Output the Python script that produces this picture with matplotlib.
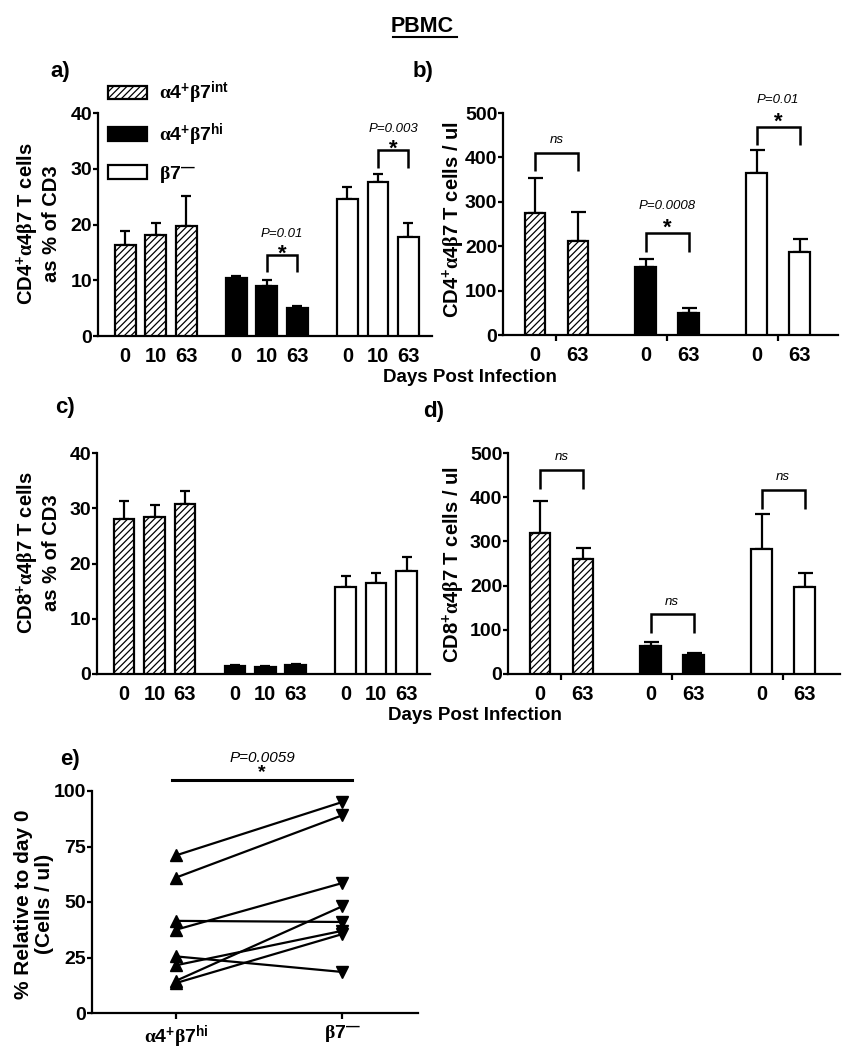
import numpy as np
import matplotlib
matplotlib.use('Agg')
import matplotlib.pyplot as plt
from matplotlib.patches import Patch
from matplotlib.lines import Line2D

# ---------------- data ----------------
days_3 = ['0', '10', '63']
days_2 = ['0', '63']

a_int = [16.4, 18.1, 19.8]; a_int_err = [2.4, 2.1, 5.4]
a_hi = [10.4, 9.0, 5.0];    a_hi_err = [0.4, 1.1, 0.4]
a_neg = [24.6, 27.7, 17.7]; a_neg_err = [2.2, 1.3, 2.5]

b_int = [274, 211]; b_int_err = [80, 65]
b_hi = [154, 50];   b_hi_err = [18, 10]
b_neg = [364, 187]; b_neg_err = [52, 30]

c_int = [28.1, 28.4, 30.8]; c_int_err = [3.2, 2.1, 2.4]
c_hi = [1.5, 1.3, 1.6];     c_hi_err = [0.2, 0.2, 0.2]
c_neg = [15.7, 16.5, 18.6]; c_neg_err = [2.0, 1.8, 2.5]

d_int = [320, 260]; d_int_err = [72, 24]
d_hi = [63, 42];    d_hi_err = [9, 6]
d_neg = [282, 197]; d_neg_err = [79, 32]

e_hi = [71, 61, 37.5, 41.5, 25.5, 21.5, 14.5, 13.5]
e_neg = [95, 89, 58.5, 41, 18.5, 37, 48, 35.5]

# significance annotations: (group, label, bracket top, leg bottom)
a_sig = [(1, 'P=0.01', 14.5, 11.4), (2, 'P=0.003', 33.4, 30.1)]
b_sig = [(0, 'ns', 410, 370), (1, 'P=0.0008', 229, 187), (2, 'P=0.01', 468, 427)]
d_sig = [(0, 'ns', 461, 418), (1, 'ns', 135, 92), (2, 'ns', 417, 374)]

lab_int = r'$\alpha$4$^{\mathbf{+}}$$\beta$7$^{\mathbf{int}}$'
lab_hi = r'$\alpha$4$^{\mathbf{+}}$$\beta$7$^{\mathbf{hi}}$'
lab_neg = r'$\beta$7$^{\mathbf{—}}$'

# ---------------- style ----------------
plt.rcParams['font.family'] = ['Liberation Sans', 'DejaVu Sans']
plt.rcParams['font.weight'] = 'bold'
plt.rcParams['mathtext.fontset'] = 'custom'
plt.rcParams['mathtext.rm'] = 'Liberation Serif'
plt.rcParams['mathtext.it'] = 'Liberation Serif'
plt.rcParams['mathtext.bf'] = 'Liberation Sans:bold'
plt.rcParams['hatch.color'] = 'black'
plt.rcParams['hatch.linewidth'] = 0.9

LW = 1.6
W, H = 844, 1050
fig = plt.figure(figsize=(W / 100, H / 100), dpi=100)


def fx(px):
    return px / W


def fy(py):
    return 1 - py / H


def make_ax(l, t, r, b):
    return fig.add_axes([fx(l), fy(b), fx(r) - fx(l), fy(t) - fy(b)])


styles = [dict(facecolor='white', hatch='/////'),
          dict(facecolor='black'),
          dict(facecolor='white')]


def style_axes(ax):
    for s in ['top', 'right']:
        ax.spines[s].set_visible(False)
    for s in ['left', 'bottom']:
        ax.spines[s].set_linewidth(LW)
    ax.tick_params(axis='y', length=3.6, width=LW, pad=0.5, labelsize=14)


def bar_panel(ax, vals, errs, base, width, daylabels, ylim, yticks, capsize, tick_off):
    xs_all, labs = [], []
    for g, (v, e) in enumerate(zip(vals, errs)):
        x = base[g] + np.arange(len(v))
        ax.bar(x, v, width, edgecolor='black', linewidth=LW, zorder=3, **styles[g])
        ax.errorbar(x, v, yerr=[np.zeros(len(v)), e], fmt='none', ecolor='black',
                    elinewidth=LW, capsize=capsize, capthick=LW, zorder=2)
        xs_all += list(x)
        labs += daylabels
    ax.set_ylim(*ylim)
    ax.set_yticks(yticks)
    ax.set_xticks(xs_all)
    ax.set_xticklabels(labs, fontsize=14.5)
    ax.tick_params(axis='x', which='major', length=0, pad=8)
    ax.set_xticks([b + tick_off for b in base], minor=True)
    ax.tick_params(axis='x', which='minor', length=4.5, width=LW, direction='out')
    style_axes(ax)


def brackets(ax, sig, base, i0, i1, star_off, p_off, ns_off, psize=9.5):
    for g, lab, top, leg in sig:
        x0, x1 = base[g] + i0, base[g] + i1
        ax.plot([x0, x0, x1, x1], [leg, top, top, leg], color='black', lw=1.8,
                clip_on=False, solid_joinstyle='miter', solid_capstyle='butt', zorder=4)
        xm = (x0 + x1) / 2
        if lab == 'ns':
            ax.annotate('ns', (xm, top), xytext=(0, ns_off), textcoords='offset points',
                        ha='center', va='center', fontsize=psize, style='italic',
                        fontweight='normal', annotation_clip=False)
        else:
            ax.annotate('*', (xm, top), xytext=(0, star_off), textcoords='offset points',
                        ha='center', va='center', fontsize=16, fontweight='bold',
                        annotation_clip=False)
            ax.annotate(lab, (xm, top), xytext=(0, p_off), textcoords='offset points',
                        ha='center', va='center', fontsize=psize, style='italic',
                        fontweight='normal', annotation_clip=False)


base3 = [0, 3.64, 7.28]
base2 = [0, 2.58, 5.16]

# ---- panel a ----
axa = make_ax(98, 113, 432, 336)
bar_panel(axa, [a_int, a_hi, a_neg], [a_int_err, a_hi_err, a_neg_err], base3, 0.68,
          days_3, (0, 40), [0, 10, 20, 30, 40], 3.6, 1)
axa.set_xlim(-0.89, 10.05)
brackets(axa, a_sig, base3, 1, 2, 0.5, 15.0, 0)

# ---- panel b ----
axb = make_ax(503, 113, 838, 335)
bar_panel(axb, [b_int, b_hi, b_neg], [b_int_err, b_hi_err, b_neg_err], base2, 0.48,
          days_2, (0, 500), [0, 100, 200, 300, 400, 500], 5.4, 0.5)
axb.set_xlim(-0.74, 7.05)
brackets(axb, b_sig, base2, 0, 1, 3.5, 19.5, 9.6)

# ---- panel c ----
axc = make_ax(97, 453, 430, 674)
bar_panel(axc, [c_int, c_hi, c_neg], [c_int_err, c_hi_err, c_neg_err], base3, 0.68,
          days_3, (0, 40), [0, 10, 20, 30, 40], 3.6, 1)
axc.set_xlim(-0.89, 10.05)

# ---- panel d ----
axd = make_ax(508, 453, 840, 674)
bar_panel(axd, [d_int, d_hi, d_neg], [d_int_err, d_hi_err, d_neg_err], base2, 0.48,
          days_2, (0, 500), [0, 100, 200, 300, 400, 500], 5.4, 0.5)
axd.set_xlim(-0.74, 6.98)
brackets(axd, d_sig, base2, 0, 1, 3.5, 19.5, 9.2)

# ---- panel e ----
axe = make_ax(92, 791, 418, 1013)
for l, r in zip(e_hi, e_neg):
    axe.plot([0, 1], [l, r], color='black', lw=1.6, zorder=2)
axe.plot(np.zeros(len(e_hi)), e_hi, linestyle='none', marker='^', color='black',
         markersize=8, zorder=3, clip_on=False)
axe.plot(np.ones(len(e_neg)), e_neg, linestyle='none', marker='v', color='black',
         markersize=8, zorder=3, clip_on=False)
axe.set_xlim(-0.506, 1.458)
axe.set_ylim(0, 100)
axe.set_yticks([0, 25, 50, 75, 100])
axe.set_xticks([0, 1])
axe.set_xticklabels([lab_hi, lab_neg], fontsize=14)
axe.tick_params(axis='x', length=4.5, width=LW, pad=3)
style_axes(axe)
axe.plot([-0.024, 1.06], [105, 105], color='black', lw=2.2, clip_on=False)
axe.text(0.518, 108.3, '*', ha='center', va='center', fontsize=14, fontweight='bold')
axe.text(0.518, 114.7, 'P=0.0059', ha='center', va='center', fontsize=11,
         style='italic', fontweight='normal')

# ---------------- text ----------------
fig.text(0.5, fy(26), 'PBMC', ha='center', va='center', fontsize=15.5, fontweight='bold')
fig.add_artist(Line2D([fx(393), fx(457)], [fy(37), fy(37)], color='black', lw=1.5))

for lab, x, y in [('a)', 50, 71), ('b)', 413, 71), ('c)', 55, 407), ('d)', 423, 412),
                  ('e)', 60, 760)]:
    fig.text(fx(x), fy(y), lab, ha='left', va='center', fontsize=16, fontweight='bold')

fig.text(fx(470), fy(378), 'Days Post Infection', ha='center', va='center',
         fontsize=13.5, fontweight='bold')
fig.text(fx(475), fy(715), 'Days Post Infection', ha='center', va='center',
         fontsize=13.5, fontweight='bold')

fig.text(fx(38), fy(224), r'CD4$^{\mathbf{+}}$$\alpha$4$\beta$7 T cells' + '\nas % of CD3',
         rotation=90, ha='center', va='center', multialignment='center', fontsize=14.5,
         linespacing=1.15)
fig.text(fx(453), fy(220), r'CD4$^{\mathbf{+}}$$\alpha$4$\beta$7 T cells / ul',
         rotation=90, ha='center', va='center', fontsize=14.5)
fig.text(fx(38), fy(553), r'CD8$^{\mathbf{+}}$$\alpha$4$\beta$7 T cells' + '\nas % of CD3',
         rotation=90, ha='center', va='center', multialignment='center', fontsize=14.5,
         linespacing=1.15)
fig.text(fx(453), fy(565), r'CD8$^{\mathbf{+}}$$\alpha$4$\beta$7 T cells / ul',
         rotation=90, ha='center', va='center', fontsize=14.5)
fig.text(fx(34), fy(904), '% Relative to day 0\n(Cells / ul)', rotation=90,
         ha='center', va='center', multialignment='center', fontsize=15, linespacing=1.1)

# ---------------- legend ----------------
handles = [Patch(facecolor='white', edgecolor='black', hatch='/////', linewidth=LW),
           Patch(facecolor='black', edgecolor='black', linewidth=LW),
           Patch(facecolor='white', edgecolor='black', linewidth=LW)]
fig.legend(handles, [lab_int, lab_hi, lab_neg], loc='upper left',
           bbox_to_anchor=(fx(108), fy(80)), frameon=False, borderpad=0,
           borderaxespad=0, handlelength=2.0, handleheight=0.7, handletextpad=0.6,
           labelspacing=0.75, fontsize=14)

fig.savefig('out.png', dpi=100)
